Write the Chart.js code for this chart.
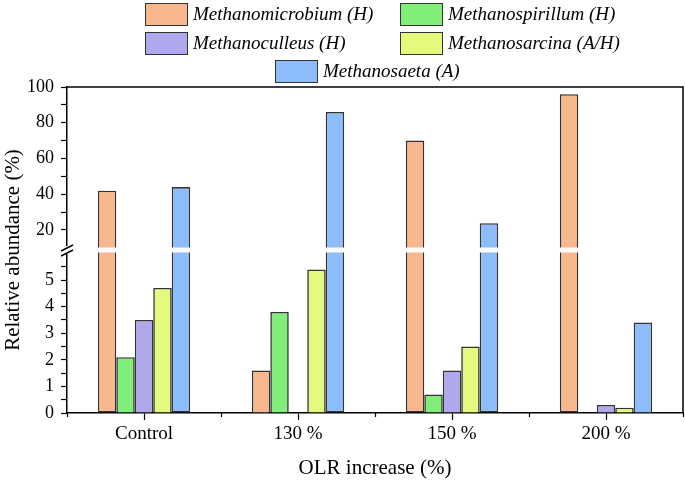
<!DOCTYPE html>
<html>
<head>
<meta charset="utf-8">
<script src="https://cdn.jsdelivr.net/npm/chart.js@4.4.1/dist/chart.umd.min.js"></script>
<style>
  body { margin: 0; background: #fff; }
  #wrap { position: relative; width: 685px; height: 483px; }
  #legend { position: absolute; left: 0; top: 0; font: italic 19px 'Liberation Serif', serif; color: #000; }
  .item { position: absolute; display: flex; align-items: center; height: 24px; white-space: nowrap; }
  .swatch { width: 43px; height: 23px; border: 1.5px solid #333; box-sizing: border-box; margin-right: 5px; }
</style>
</head>
<body>
<div id="wrap">
  <canvas id="chart" width="685" height="483"></canvas>
  <div id="legend"></div>
</div>
<script>
// ── Data ───────────────────────────────────────────────────────────────────────
const CATEGORIES = ['Control', '130 %', '150 %', '200 %'];
const SERIES_NAMES = [
  'Methanomicrobium (H)',
  'Methanospirillum (H)',
  'Methanoculleus (H)',
  'Methanosarcina (A/H)',
  'Methanosaeta (A)',
];
const METHANOMICROBIUM = [42, 1.6, 70, 96];
const METHANOSPIRILLUM = [2.1, 3.8, 0.7, 0];
const METHANOCULLEUS   = [3.5, 0, 1.6, 0.3];
const METHANOSARCINA   = [4.7, 5.4, 2.5, 0.2];
const METHANOSAETA     = [44, 86, 23.8, 3.4];
const SERIES_VALUES = [METHANOMICROBIUM, METHANOSPIRILLUM, METHANOCULLEUS, METHANOSARCINA, METHANOSAETA];

const LOWER_LABELS = [0, 1, 2, 3, 4, 5];       // labelled ticks below the break
const UPPER_LABELS = [20, 40, 60, 80, 100];    // labelled ticks above the break

// ── Style ──────────────────────────────────────────────────────────────────────
const COLORS = ['#F8B78C', '#80EE78', '#B0A8EC', '#E4FA7C', '#8CBCFC'];
const EDGE = '#333333';
const LOWER_MAX = 6.13;   // top of lower segment
const UPPER_MIN = 8.8;    // bottom of upper segment
const FONT = "'Liberation Serif', 'Times New Roman', serif";

Chart.defaults.font.family = FONT;
Chart.defaults.color = '#000';

// ── Datasets: each series split into a lower part and an upper (floating) part
const datasets = [];
SERIES_NAMES.forEach((name, i) => {
  const vals = SERIES_VALUES[i];
  const common = {
    label: name,
    stack: name,
    backgroundColor: COLORS[i],
    borderColor: EDGE,
    borderWidth: 1.6,
  };
  datasets.push({
    ...common,
    yAxisID: 'y',
    data: vals.map(v => Math.min(v, LOWER_MAX)),
    borderSkipped: (ctx) => (SERIES_VALUES[i][ctx.dataIndex] > LOWER_MAX ? 'top' : 'start'),
  });
  datasets.push({
    ...common,
    yAxisID: 'y2',
    data: vals.map(v => (v > UPPER_MIN ? [UPPER_MIN, v] : null)),
    borderSkipped: 'start',
  });
});

// ── HTML legend ────────────────────────────────────────────────────────────────
const LEGEND_POS = [[145, 2], [400, 2], [145, 31], [400, 31], [275, 59]];
const legendEl = document.getElementById('legend');
SERIES_NAMES.forEach((name, i) => {
  const el = document.createElement('div');
  el.className = 'item';
  el.style.left = LEGEND_POS[i][0] + 'px';
  el.style.top = LEGEND_POS[i][1] + 'px';
  el.innerHTML = `<span class="swatch" style="background:${COLORS[i]}"></span><span>${name}</span>`;
  legendEl.appendChild(el);
});

// ── Plugins: axis break, frame, category boundary ticks ────────────────────────
const breakBand = {
  id: 'breakBand',
  afterDatasetsDraw(chart) {
    const { ctx, chartArea } = chart;
    const mid = (chart.scales.y2.bottom + chart.scales.y.top) / 2;
    ctx.save();
    ctx.fillStyle = '#fff';
    ctx.fillRect(chartArea.left + 1, mid - 2.5, chartArea.width - 2, 5);
    ctx.restore();
  },
  afterDraw(chart) {
    const { ctx, chartArea } = chart;
    const { left, right, top, bottom } = chartArea;
    const mid = (chart.scales.y2.bottom + chart.scales.y.top) / 2;
    ctx.save();
    // cut the left axis line and draw the // marks
    ctx.fillStyle = '#fff';
    ctx.fillRect(left - 8, mid - 4, 14, 8);
    ctx.strokeStyle = '#000';
    ctx.lineWidth = 1.4;
    ctx.beginPath();
    ctx.moveTo(left - 6, mid + 1);
    ctx.lineTo(left + 6, mid - 5);
    ctx.moveTo(left - 6, mid + 6);
    ctx.lineTo(left + 6, mid);
    ctx.stroke();
    // top and right frame
    ctx.lineWidth = 1.5;
    ctx.beginPath();
    ctx.moveTo(left, top);
    ctx.lineTo(right, top);
    ctx.lineTo(right, bottom);
    ctx.stroke();
    // small ticks between categories
    const xs = chart.scales.x;
    const n = CATEGORIES.length;
    ctx.lineWidth = 1.2;
    ctx.beginPath();
    for (let k = 0; k <= n; k++) {
      const x = Math.round(xs.left + k * xs.width / n) + 0.5;
      ctx.moveTo(x, bottom);
      ctx.lineTo(x, bottom + 4);
    }
    ctx.stroke();
    ctx.restore();
  },
};

// ── Chart ──────────────────────────────────────────────────────────────────────
const tickGrid = {
  drawOnChartArea: false,
  drawTicks: true,
  tickLength: 6,
  tickColor: '#000',
  tickWidth: 1.2,
};

new Chart(document.getElementById('chart'), {
  type: 'bar',
  data: { labels: CATEGORIES, datasets },
  plugins: [breakBand],
  options: {
    responsive: false,
    animation: false,
    devicePixelRatio: 1,
    layout: { padding: { top: 87, right: 2, left: 0, bottom: 0 } },
    barPercentage: 1,
    categoryPercentage: 0.6,
    plugins: {
      legend: { display: false },
      tooltip: { enabled: false },
    },
    scales: {
      x: {
        type: 'category',
        offset: true,
        z: 1,
        afterFit: (s) => { s.height = 70; },
        border: { color: '#000', width: 1.5 },
        grid: { ...tickGrid, offset: false, tickLength: 7 },
        ticks: { color: '#000', font: { size: 19 }, padding: 3, maxRotation: 0 },
        title: {
          display: true,
          text: 'OLR increase (%)',
          color: '#000',
          font: { size: 21 },
          padding: { top: 0, bottom: 2 },
        },
      },
      y: {
        type: 'linear',
        position: 'left',
        stack: 'v',
        stackWeight: 1,
        stacked: false,
        min: 0,
        max: LOWER_MAX,
        z: 1,
        afterFit: (s) => { s.width = 41; },
        border: { color: '#000', width: 1.5 },
        grid: tickGrid,
        ticks: {
          stepSize: 0.5,
          maxTicksLimit: 20,
          autoSkip: false,
          padding: 7,
          color: '#000',
          font: { size: 18 },
          callback: (v) => (LOWER_LABELS.includes(v) ? String(v) : ''),
        },
      },
      y2: {
        type: 'linear',
        position: 'left',
        stack: 'v',
        stackWeight: 1,
        stacked: false,
        min: UPPER_MIN,
        max: 100,
        z: 1,
        afterFit: (s) => { s.width = 41; },
        border: { color: '#000', width: 1.5 },
        grid: tickGrid,
        ticks: {
          stepSize: 10,
          autoSkip: false,
          padding: 7,
          color: '#000',
          font: { size: 18 },
          callback: (v) => (UPPER_LABELS.includes(v) ? String(v) : ''),
        },
      },
      yT: {
        type: 'linear',
        position: 'left',
        weight: 1,
        min: 0,
        max: 1,
        afterFit: (s) => { s.width = 26; },
        border: { display: false },
        grid: { display: false },
        ticks: { display: false },
        title: {
          display: true,
          text: 'Relative abundance (%)',
          color: '#000',
          font: { size: 21 },
          padding: { top: 1, bottom: 0 },
        },
      },
    },
  },
});
</script>
</body>
</html>
